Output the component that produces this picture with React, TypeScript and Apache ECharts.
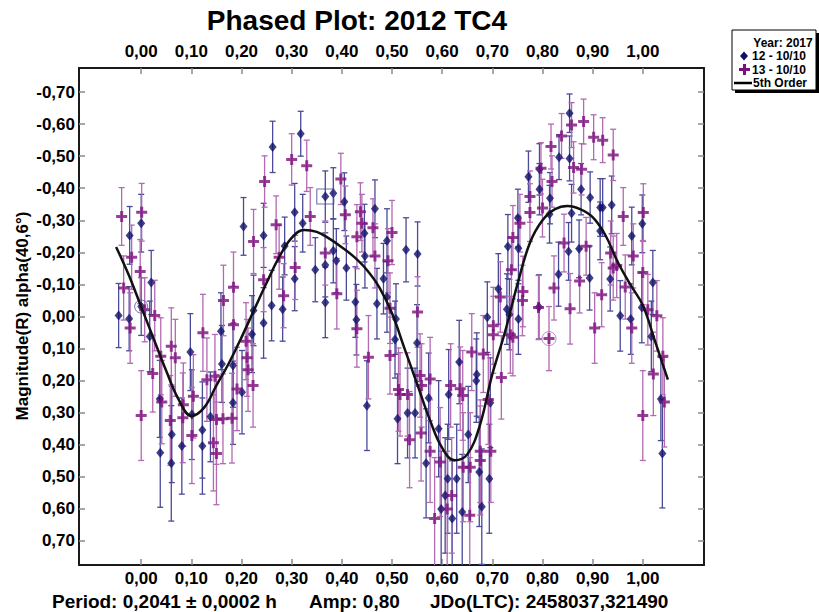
import React, { useEffect, useRef } from "react";
import * as echarts from "echarts";

// ---------- data ----------
const xTicks = [0, 0.1, 0.2, 0.3, 0.4, 0.5, 0.6, 0.7, 0.8, 0.9, 1.0];
const yTicks = [-0.7, -0.6, -0.5, -0.4, -0.3, -0.2, -0.1, 0, 0.1, 0.2, 0.3, 0.4, 0.5, 0.6, 0.7];

// session 12 - 10/10 : [phase, magnitude, error]
const session12 = [
  [-0.045, -0.003, 0.10], [-0.023, -0.253, 0.09], [-0.024, 0.007, 0.10], [0.0, -0.291, 0.09],
  [0.0, -0.031, 0.09], [0.02, -0.106, 0.10], [0.017, 0.062, 0.11], [0.037, 0.257, 0.12],
  [0.038, 0.425, 0.17], [0.061, 0.368, 0.15], [0.06, 0.458, 0.18], [0.081, 0.404, 0.15],
  [0.098, 0.111, 0.12], [0.101, 0.306, 0.14], [0.122, 0.354, 0.15], [0.122, 0.404, 0.15],
  [0.138, 0.313, 0.14], [0.159, 0.046, 0.12], [0.161, 0.148, 0.12], [0.183, 0.153, 0.13],
  [0.183, 0.269, 0.13], [0.201, 0.236, 0.13], [0.221, 0.055, 0.12], [0.224, -0.019, 0.11],
  [0.204, -0.281, 0.09], [0.244, 0.02, 0.11], [0.244, -0.253, 0.10], [0.26, -0.034, 0.11],
  [0.282, -0.023, 0.10], [0.286, -0.22, 0.09], [0.306, -0.325, 0.09], [0.306, -0.118, 0.10],
  [0.322, -0.291, 0.09], [0.347, -0.146, 0.10], [0.262, -0.529, 0.08], [0.318, -0.57, 0.07],
  [0.367, -0.374, 0.08], [0.383, -0.384, 0.08], [0.405, -0.358, 0.09], [0.367, -0.161, 0.10],
  [0.383, -0.205, 0.10], [0.389, -0.174, 0.10], [0.367, -0.044, 0.11], [0.409, -0.151, 0.10],
  [0.427, -0.045, 0.11], [0.429, 0.01, 0.11], [0.445, -0.26, 0.09], [0.446, -0.189, 0.10],
  [0.45, 0.278, 0.14], [0.466, -0.336, 0.09], [0.47, -0.04, 0.11], [0.483, -0.118, 0.11],
  [0.49, -0.236, 0.10], [0.49, -0.061, 0.11], [0.508, 0.008, 0.11], [0.506, 0.072, 0.12],
  [0.511, 0.319, 0.14], [0.531, 0.301, 0.14], [0.546, 0.301, 0.14], [0.528, -0.208, 0.10],
  [0.551, -0.195, 0.10], [0.55, 0.083, 0.12], [0.573, 0.254, 0.14], [0.568, 0.458, 0.17],
  [0.593, 0.35, 0.15], [0.613, 0.243, 0.14], [0.611, 0.506, 0.17], [0.629, 0.506, 0.17],
  [0.606, 0.558, 0.18], [0.634, 0.142, 0.13], [0.652, 0.368, 0.15], [0.669, 0.181, 0.13],
  [0.668, 0.2, 0.13], [0.674, 0.485, 0.17], [0.694, 0.506, 0.17], [0.696, 0.269, 0.14],
  [0.69, 0.002, 0.11], [0.712, -0.086, 0.11], [0.729, -0.023, 0.11], [0.734, -0.006, 0.11],
  [0.731, -0.218, 0.10], [0.751, -0.307, 0.09], [0.752, -0.213, 0.10], [0.752, 0.008, 0.11],
  [0.598, 0.6, 0.18], [0.64, 0.61, 0.18], [0.62, 0.63, 0.18], [0.679, 0.593, 0.18],
  [0.854, -0.634, 0.06], [0.833, -0.497, 0.07], [0.854, -0.493, 0.07], [0.794, -0.459, 0.08],
  [0.772, -0.436, 0.08], [0.794, -0.397, 0.08], [0.877, -0.397, 0.08], [0.815, -0.369, 0.08],
  [0.895, -0.371, 0.08], [0.915, -0.34, 0.09], [0.92, -0.34, 0.09], [0.938, -0.348, 0.09],
  [0.814, -0.319, 0.09], [0.858, -0.322, 0.09], [0.999, -0.289, 0.09], [0.915, -0.267, 0.09],
  [0.852, -0.203, 0.09], [0.873, -0.211, 0.09], [0.978, -0.251, 0.09], [0.935, -0.117, 0.10],
  [0.832, -0.132, 0.10], [0.894, -0.12, 0.10], [0.955, -0.002, 0.11], [0.976, 0.008, 0.11],
  [0.998, -0.028, 0.11], [1.017, 0.062, 0.11], [1.02, -0.106, 0.10], [1.036, 0.257, 0.13],
  [1.039, 0.427, 0.17], [0.793, -0.03, 0.10],
];

// session 13 - 10/10 : [phase, magnitude, error]
const session13 = [
  [-0.039, -0.312, 0.09], [-0.019, -0.185, 0.10], [-0.035, -0.089, 0.10], [-0.022, 0.036, 0.11],
  [0.001, -0.325, 0.09], [-0.002, -0.14, 0.10], [0.007, -0.021, 0.10], [0.027, -0.003, 0.11],
  [0.023, 0.178, 0.12], [0.0, 0.309, 0.14], [0.041, 0.267, 0.13], [0.039, 0.124, 0.12],
  [0.06, 0.093, 0.12], [0.068, 0.129, 0.12], [0.058, 0.324, 0.14], [0.084, 0.275, 0.13],
  [0.083, 0.316, 0.14], [0.104, 0.249, 0.13], [0.101, 0.371, 0.15], [0.123, 0.051, 0.12],
  [0.131, 0.197, 0.13], [0.147, 0.186, 0.13], [0.144, 0.394, 0.15], [0.15, 0.427, 0.16],
  [0.15, 0.321, 0.14], [0.164, -0.05, 0.11], [0.163, 0.319, 0.14], [0.184, -0.091, 0.11],
  [0.184, 0.026, 0.12], [0.181, 0.317, 0.14], [0.191, 0.226, 0.13], [0.209, 0.077, 0.12],
  [0.211, 0.129, 0.12], [0.213, 0.166, 0.13], [0.223, 0.215, 0.13], [0.224, -0.234, 0.10],
  [0.244, -0.115, 0.10], [0.246, -0.421, 0.08], [0.269, -0.286, 0.09], [0.275, -0.185, 0.10],
  [0.284, -0.065, 0.10], [0.307, -0.153, 0.10], [0.337, -0.312, 0.09], [0.3, -0.49, 0.08],
  [0.33, -0.47, 0.08],
  [0.398, -0.429, 0.08], [0.407, -0.317, 0.09], [0.367, -0.198, 0.10], [0.39, -0.071, 0.11],
  [0.43, 0.038, 0.12], [0.43, -0.249, 0.10], [0.437, -0.327, 0.09], [0.44, -0.291, 0.09],
  [0.453, 0.127, 0.13], [0.462, -0.277, 0.09], [0.466, -0.189, 0.10], [0.492, -0.174, 0.10],
  [0.5, -0.262, 0.10], [0.496, -0.026, 0.11], [0.496, 0.122, 0.12], [0.513, 0.228, 0.13],
  [0.516, 0.243, 0.13], [0.531, 0.243, 0.13], [0.535, 0.384, 0.15], [0.551, -0.014, 0.11],
  [0.556, 0.184, 0.13], [0.559, 0.215, 0.13], [0.576, 0.195, 0.13], [0.558, 0.363, 0.15],
  [0.576, 0.42, 0.16], [0.596, 0.454, 0.17], [0.617, 0.215, 0.13], [0.619, 0.558, 0.18],
  [0.636, 0.225, 0.13], [0.641, 0.246, 0.14], [0.642, 0.47, 0.17], [0.656, 0.47, 0.17],
  [0.659, 0.111, 0.12], [0.682, 0.117, 0.12], [0.676, 0.42, 0.16], [0.676, 0.449, 0.17],
  [0.697, 0.42, 0.16], [0.692, 0.259, 0.14], [0.702, 0.029, 0.12], [0.702, 0.057, 0.12],
  [0.716, -0.061, 0.11], [0.718, 0.19, 0.13], [0.736, 0.057, 0.12], [0.741, 0.065, 0.12],
  [0.741, -0.246, 0.10], [0.738, -0.146, 0.10], [0.585, 0.63, 0.19], [0.655, 0.62, 0.18],
  [0.61, 0.6, 0.18],
  [0.858, -0.597, 0.07], [0.882, -0.608, 0.07], [0.838, -0.563, 0.07], [0.902, -0.559, 0.07],
  [0.92, -0.55, 0.07], [0.941, -0.504, 0.08], [0.817, -0.53, 0.07], [0.862, -0.465, 0.08],
  [0.878, -0.459, 0.08], [0.797, -0.462, 0.08], [0.819, -0.421, 0.08], [0.775, -0.374, 0.08],
  [0.775, -0.324, 0.09], [0.8, -0.338, 0.09], [0.961, -0.312, 0.09], [1.001, -0.324, 0.09],
  [0.755, -0.291, 0.09], [0.843, -0.229, 0.09], [0.887, -0.219, 0.09], [0.981, -0.189, 0.10],
  [0.936, -0.198, 0.10], [0.941, -0.151, 0.10], [0.948, -0.159, 0.10], [0.823, -0.089, 0.10],
  [0.874, -0.111, 0.10], [0.761, -0.078, 0.11], [0.76, -0.05, 0.11], [0.965, -0.092, 0.10],
  [0.918, -0.068, 0.10], [0.792, -0.028, 0.10], [0.855, -0.024, 0.11], [0.978, 0.036, 0.11],
  [0.904, 0.036, 0.11], [0.813, 0.069, 0.10], [1.01, -0.021, 0.11], [1.028, -0.002, 0.11],
  [1.0, -0.137, 0.10], [1.04, 0.124, 0.12], [1.021, 0.179, 0.13], [1.0, 0.309, 0.14],
  [1.043, 0.267, 0.14],
];

// 5th order Fourier fit
const fitPhase = [
  -0.05, -0.025, 0.0, 0.025, 0.05, 0.075, 0.1, 0.125, 0.15, 0.175, 0.2, 0.225, 0.25, 0.275,
  0.3, 0.325, 0.35, 0.375, 0.4, 0.425, 0.45, 0.475, 0.5, 0.525, 0.55, 0.575, 0.6, 0.625, 0.65,
  0.675, 0.7, 0.725, 0.75, 0.775, 0.8, 0.825, 0.85, 0.875, 0.9, 0.925, 0.95, 0.975, 1.0, 1.025, 1.05,
];
const fitMag = [
  -0.217, -0.13, -0.03, 0.07, 0.17, 0.26, 0.31, 0.285, 0.215, 0.145, 0.065, -0.02, -0.105, -0.185,
  -0.245, -0.27, -0.264, -0.243, -0.216, -0.185, -0.145, -0.09, -0.01, 0.1, 0.21, 0.32, 0.41,
  0.448, 0.43, 0.34, 0.18, 0.05, -0.1, -0.23, -0.3, -0.335, -0.345, -0.335, -0.31, -0.255,
  -0.17, -0.1, -0.035, 0.08, 0.197,
];

const circled12 = [[0.0, -0.031]];
const circled13 = [[0.813, 0.069]];
const boxed12 = [[0.367, -0.374]];

const titleText = "Phased Plot: 2012 TC4";
const yTitle = "Magnitude(R) alpha(40,6°)";
const footerPeriod = "Period: 0,2041 ± 0,0002 h";
const footerAmp = "Amp: 0,80";
const footerJD = "JDo(LTC): 2458037,321490";
const legendTitle = "Year: 2017";
const legendNames = ["12 - 10/10", "13 - 10/10", "5th Order"];

// ---------- styles ----------
const FONT = "'Liberation Sans', Arial, sans-serif";
const NAVY = "#10106a";
const NAVY_BAR = "#4a4a98";
const PURPLE = "#7d0f7d";
const PURPLE_BAR = "#b26ab2";
const PLUS = "path://M4,0H7V4H11V7H7V11H4V7H0V4H4Z";

const fmt = (v: number) => (Math.abs(v) < 1e-9 ? "0.00" : v.toFixed(2)).replace(".", ",");

function errorBars(data: number[][], color: string) {
  return {
    type: "custom",
    clip: true,
    z: 2,
    encode: { x: 0, y: 1 },
    data,
    renderItem: (params: any, api: any) => {
      const x = api.value(0);
      const y = api.value(1);
      const e = api.value(2);
      const a = api.coord([x, y - e]);
      const b = api.coord([x, y + e]);
      const w = 3;
      const st = { stroke: color, lineWidth: 1.3 };
      return {
        type: "group",
        children: [
          { type: "line", shape: { x1: a[0], y1: a[1], x2: b[0], y2: b[1] }, style: st },
          { type: "line", shape: { x1: a[0] - w, y1: a[1], x2: a[0] + w, y2: a[1] }, style: st },
          { type: "line", shape: { x1: b[0] - w, y1: b[1], x2: b[0] + w, y2: b[1] }, style: st },
        ],
      };
    },
  };
}

function axisCommon(ticks: number[], showLabel: boolean, margin: number) {
  return {
    type: "value",
    splitLine: { show: false },
    axisLine: { show: true, onZero: false, lineStyle: { color: "#1a1a1a", width: 2 } },
    axisTick: { show: true, inside: true, length: 6, customValues: ticks, lineStyle: { color: "#8a8a8a", width: 1.5 } },
    axisLabel: {
      show: showLabel,
      customValues: ticks,
      formatter: fmt,
      margin,
      color: "#000",
      fontSize: 17,
      fontWeight: "bold",
      fontFamily: FONT,
    },
  };
}

export default function App() {
  const ref = useRef<HTMLDivElement>(null);
  useEffect(() => {
    if (!ref.current) return;
    const chart = echarts.init(ref.current, undefined, { renderer: "svg" });
    const xMin = -0.124;
    const xMax = 1.122;
    const yMin = -0.775;
    const yMax = 0.775;
    const option: any = {
      animation: false,
      backgroundColor: "#ffffff",
      grid: { left: 79, top: 68, width: 625, height: 497 },
      xAxis: [
        { ...axisCommon(xTicks, true, 5), position: "bottom", min: xMin, max: xMax },
        { ...axisCommon(xTicks, true, 8), position: "top", min: xMin, max: xMax },
      ],
      yAxis: [
        { ...axisCommon(yTicks, true, 4), position: "left", inverse: true, min: yMin, max: yMax },
        { ...axisCommon(yTicks, false, 4), position: "right", inverse: true, min: yMin, max: yMax },
      ],
      series: [
        errorBars(session12, NAVY_BAR),
        errorBars(session13, PURPLE_BAR),
        {
          type: "scatter",
          name: legendNames[0],
          data: session12.map((p) => [p[0], p[1]]),
          symbol: "diamond",
          symbolSize: [8, 10],
          itemStyle: { color: NAVY },
          z: 3,
        },
        {
          type: "scatter",
          name: legendNames[1],
          data: session13.map((p) => [p[0], p[1]]),
          symbol: PLUS,
          symbolSize: 11,
          itemStyle: { color: PURPLE },
          z: 3,
        },
        {
          type: "scatter",
          data: circled12,
          symbol: "circle",
          symbolSize: 13,
          itemStyle: { color: "rgba(0,0,0,0)", borderColor: NAVY_BAR, borderWidth: 1 },
          z: 4,
        },
        {
          type: "scatter",
          data: circled13,
          symbol: "circle",
          symbolSize: 14,
          itemStyle: { color: "rgba(0,0,0,0)", borderColor: PURPLE_BAR, borderWidth: 1 },
          z: 4,
        },
        {
          type: "scatter",
          data: boxed12,
          symbol: "rect",
          symbolSize: [17, 15],
          itemStyle: { color: "rgba(0,0,0,0)", borderColor: NAVY_BAR, borderWidth: 1 },
          z: 4,
        },
        {
          type: "line",
          name: legendNames[2],
          data: fitPhase.map((x, i) => [x, fitMag[i]]),
          smooth: 0.4,
          showSymbol: false,
          symbol: "none",
          lineStyle: { color: "#111", width: 2.5 },
          z: 5,
        },
      ],
      graphic: [
        {
          type: "text",
          x: 357,
          y: 20,
          style: { text: titleText, font: `bold 28px ${FONT}`, fill: "#000", textAlign: "center", textVerticalAlign: "middle" },
        },
        {
          type: "text",
          x: 22,
          y: 316,
          rotation: Math.PI / 2,
          style: { text: yTitle, font: `bold 17px ${FONT}`, fill: "#000", textAlign: "center", textVerticalAlign: "middle" },
        },
        { type: "text", x: 52, y: 601, style: { text: footerPeriod, font: `bold 19px ${FONT}`, fill: "#000", textVerticalAlign: "middle" } },
        { type: "text", x: 309, y: 601, style: { text: footerAmp, font: `bold 19px ${FONT}`, fill: "#000", textVerticalAlign: "middle" } },
        { type: "text", x: 430, y: 601, style: { text: footerJD, font: `bold 19px ${FONT}`, fill: "#000", textVerticalAlign: "middle" } },
        // legend
        { type: "rect", shape: { x: 735, y: 33, width: 84, height: 60 }, style: { fill: "#000" } },
        { type: "rect", shape: { x: 732, y: 30, width: 84, height: 60 }, style: { fill: "#fff", stroke: "#000", lineWidth: 1 } },
        { type: "text", x: 783, y: 43, style: { text: legendTitle, font: `bold 12px ${FONT}`, fill: "#000", textAlign: "center", textVerticalAlign: "middle" } },
        { type: "polygon", shape: { points: [[744, 51.5], [748, 56], [744, 60.5], [740, 56]] }, style: { fill: NAVY } },
        { type: "text", x: 752, y: 56, style: { text: legendNames[0], font: `bold 12px ${FONT}`, fill: "#000", textVerticalAlign: "middle" } },
        { type: "rect", shape: { x: 739, y: 68, width: 11, height: 3 }, style: { fill: PURPLE } },
        { type: "rect", shape: { x: 743, y: 64, width: 3, height: 11 }, style: { fill: PURPLE } },
        { type: "text", x: 752, y: 70, style: { text: legendNames[1], font: `bold 12px ${FONT}`, fill: "#000", textVerticalAlign: "middle" } },
        { type: "line", shape: { x1: 734, y1: 83, x2: 752, y2: 83 }, style: { stroke: "#000", lineWidth: 2.5 } },
        { type: "text", x: 753, y: 83, style: { text: legendNames[2], font: `bold 12px ${FONT}`, fill: "#000", textVerticalAlign: "middle" } },
      ],
    };
    chart.setOption(option);
    return () => chart.dispose();
  }, []);
  return <div ref={ref} style={{ position: "fixed", left: 0, top: 0, width: 819, height: 612 }} />;
}
